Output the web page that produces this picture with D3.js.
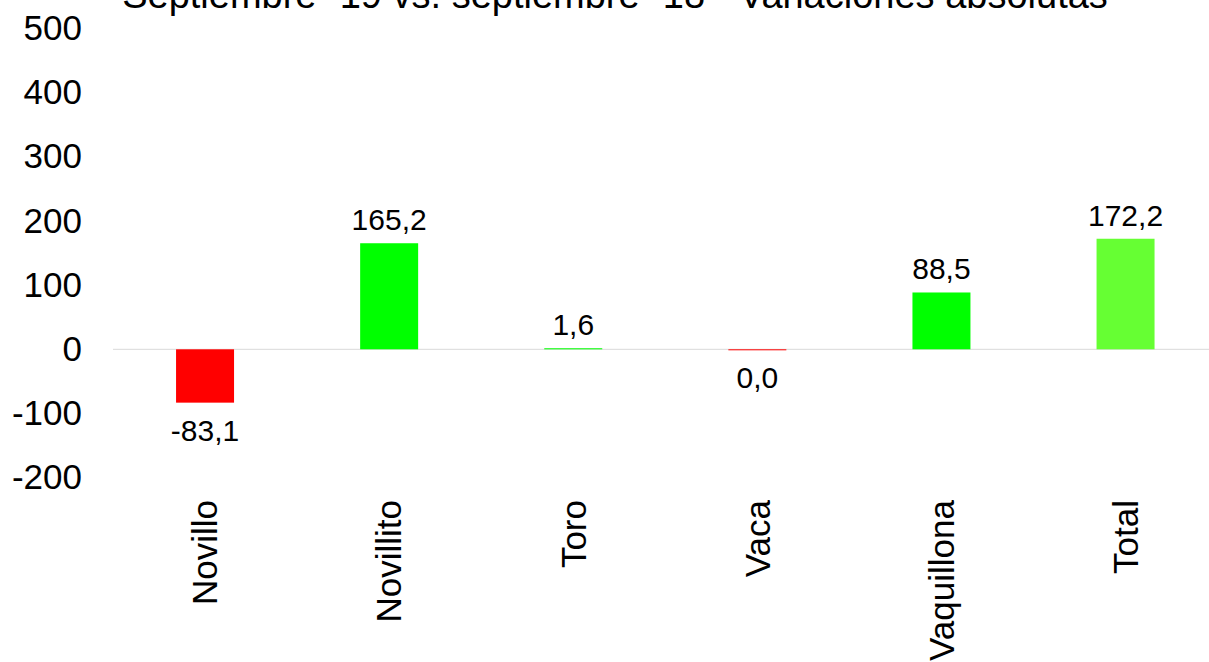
<!DOCTYPE html>
<html>
<head>
<meta charset="utf-8">
<script src="https://cdn.jsdelivr.net/npm/d3@7"></script>
<style>
  body { margin: 0; background: #fff; }
  svg { display: block; font-family: "Liberation Sans", Arial, sans-serif; }
</style>
</head>
<body>
<svg id="chart" width="1209" height="662"></svg>
<script>
// datos
const categorias = ['Novillo', 'Novillito', 'Toro', 'Vaca', 'Vaquillona', 'Total'];
const valores = [-83.1, 165.2, 1.6, -0.04, 88.5, 172.2];
const colores = ['#FF0000', '#00FF00', '#00FF00', '#FF0000', '#00FF00', '#66FF33'];
const ticksY = [-200, -100, 0, 100, 200, 300, 400, 500];
const titulo = 'Septiembre -19 vs. septiembre -18 - Variaciones absolutas';

const es = d3.formatLocale({ decimal: ',', thousands: '.', grouping: [3], currency: ['$', ''], minus: '-' });
const fmt1 = es.format('.1f');

const svg = d3.select('#chart');
const W = 1209;

const x = d3.scaleBand()
  .domain(categorias)
  .range([113, 1217.6])
  .paddingInner(0.685)
  .paddingOuter(0.3425);

const y = d3.scaleLinear()
  .domain([-200, 500])
  .range([477.7, 28.3]);

// titulo (cortado arriba, como en el original)
svg.append('text')
  .attr('x', 615)
  .attr('y', 8)
  .attr('text-anchor', 'middle')
  .style('font-size', '38px')
  .attr('fill', '#000')
  .text(titulo);

// eje Y (solo etiquetas)
const yAxis = svg.append('g')
  .attr('transform', 'translate(82,0)')
  .call(d3.axisLeft(y).tickValues(ticksY).tickSize(0).tickPadding(0).tickFormat(d3.format('d')));
yAxis.select('.domain').remove();
yAxis.selectAll('text')
  .style('font-size', '35px')
  .attr('fill', '#000')
  .attr('font-family', '"Liberation Sans", Arial, sans-serif')
  .text(d => d < 0 ? '-' + Math.abs(d) : d);

// linea cero
svg.append('line')
  .attr('x1', 113).attr('x2', W)
  .attr('y1', y(0)).attr('y2', y(0))
  .attr('stroke', '#d9d9d9')
  .attr('stroke-width', 1);

// barras
const datos = categorias.map((c, i) => ({ cat: c, v: valores[i], color: colores[i] }));

svg.append('g').selectAll('rect')
  .data(datos)
  .join('rect')
  .attr('x', d => x(d.cat))
  .attr('width', x.bandwidth())
  .attr('y', d => d.v >= 0 ? y(d.v) : y(0))
  .attr('height', d => Math.max(1, Math.abs(y(d.v) - y(0))))
  .attr('fill', d => d.color);

// etiquetas de valores
svg.append('g').selectAll('text')
  .data(datos)
  .join('text')
  .attr('x', d => x(d.cat) + x.bandwidth() / 2)
  .attr('y', d => d.v >= 0 ? y(d.v) - 13 : Math.max(y(d.v), y(0) + 1) + 38)
  .attr('text-anchor', 'middle')
  .style('font-size', '30px')
  .attr('fill', '#000')
  .text(d => fmt1(d.v));

// etiquetas de categorias (verticales)
svg.append('g').selectAll('text')
  .data(categorias)
  .join('text')
  .attr('transform', d => `translate(${x(d) + x.bandwidth() / 2},500) rotate(-90)`)
  .attr('text-anchor', 'end')
  .attr('dy', '0.35em')
  .style('font-size', '35px')
  .attr('fill', '#000')
  .text(d => d);
</script>
</body>
</html>
